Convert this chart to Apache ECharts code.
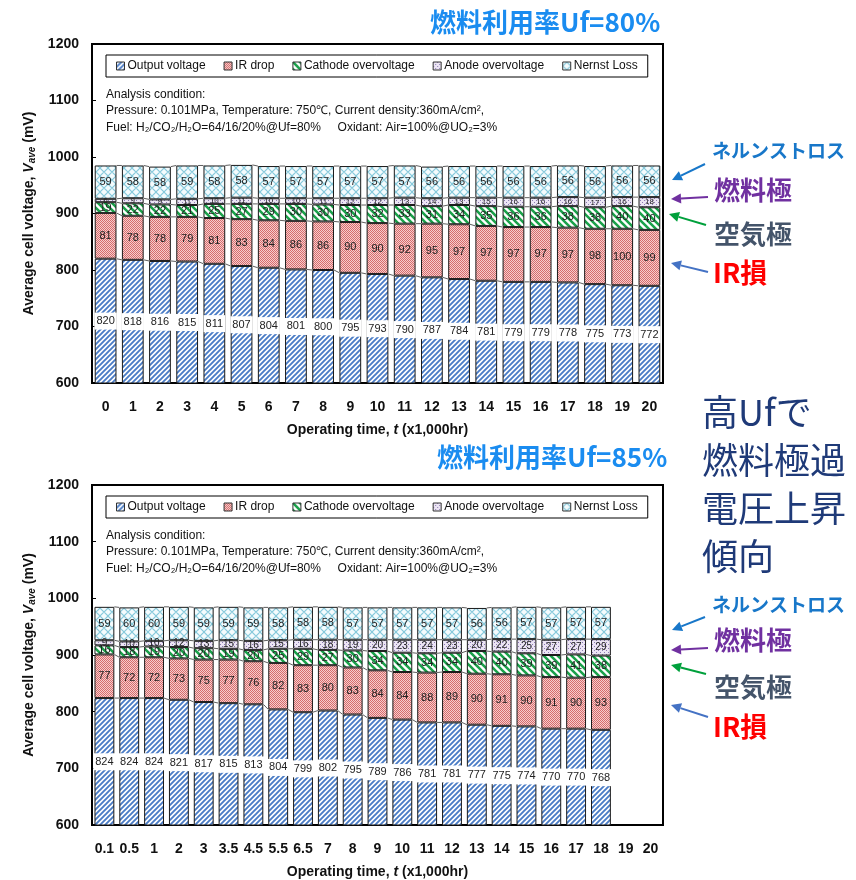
<!DOCTYPE html>
<html><head><meta charset="utf-8">
<script src="https://cdn.jsdelivr.net/npm/echarts/dist/echarts.min.js"></script>
<style>html,body{margin:0;padding:0;background:#fff}#main{width:856px;height:880px}</style>
</head><body><div id="main"></div><script>
// Uf = 80 %
const hoursUf80 = ['0','1','2','3','4','5','6','7','8','9','10','11','12','13','14','15','16','17','18','19','20'];
const outputUf80 = [820,818,816,815,811,807,804,801,800,795,793,790,787,784,781,779,779,778,775,773,772];
const irDropUf80 = [81,78,78,79,81,83,84,86,86,90,90,92,95,97,97,97,97,97,98,100,99];
const cathodeUf80 = [19,22,22,21,25,27,29,30,30,30,32,33,31,34,35,36,36,38,38,40,40];
const anodeUf80 = [6,9,9,11,10,11,10,10,11,12,12,13,14,13,15,16,16,16,17,16,18];
const nernstUf80 = [59,58,58,59,58,58,57,57,57,57,57,57,56,56,56,56,56,56,56,56,56];

// Uf = 85 %
const hoursUf85 = ['0.1','0.5','1','2','3','3.5','4.5','5.5','6.5','7','8','9','10','11','12','13','14','15','16','17','18','19','20'];
const outputUf85 = [824,824,824,821,817,815,813,804,799,802,795,789,786,781,781,777,775,774,770,770,768];
const irDropUf85 = [77,72,72,73,75,77,76,82,83,80,83,84,84,88,89,90,91,90,91,90,93];
const cathodeUf85 = [16,18,19,20,20,19,20,25,29,27,30,34,34,34,34,40,40,39,39,41,38];
const anodeUf85 = [9,10,10,12,13,15,16,15,16,18,19,20,23,24,23,20,22,25,27,27,29];
const nernstUf85 = [59,60,60,59,59,59,59,58,58,58,57,57,57,57,57,56,56,57,57,57,57];

const seriesNames = ['Output voltage','IR drop','Cathode overvoltage','Anode overvoltage','Nernst Loss'];
const yTicks = {min: 600, max: 1200, interval: 100};

// ---- fill patterns ----
function tile(size, draw) {
  const c = document.createElement('canvas');
  c.width = size; c.height = size;
  draw(c.getContext('2d'), size);
  return {image: c, repeat: 'repeat'};
}
function stripes(bg, fg, s, lw, backslash) {
  return tile(s, (g, n) => {
    g.fillStyle = bg; g.fillRect(0, 0, n, n);
    g.strokeStyle = fg; g.lineWidth = lw; g.beginPath();
    if (!backslash) {
      g.moveTo(0, n); g.lineTo(n, 0);
      g.moveTo(-n, n); g.lineTo(n, -n);
      g.moveTo(0, 2 * n); g.lineTo(2 * n, 0);
    } else {
      g.moveTo(0, 0); g.lineTo(n, n);
      g.moveTo(-n, 0); g.lineTo(n, 2 * n);
      g.moveTo(0, -n); g.lineTo(2 * n, n);
    }
    g.stroke();
  });
}
const fillOutput = stripes('#ffffff', '#4a7cc6', 5, 1.9, false);
const fillCathode = stripes('#ffffff', '#1aa14a', 7, 2.6, true);
const fillIR = tile(2, g => {
  g.fillStyle = '#f6cdcd'; g.fillRect(0, 0, 2, 2);
  g.fillStyle = '#d66c6c'; g.fillRect(0, 0, 1, 1); g.fillRect(1, 1, 1, 1);
});
const fillAnode = tile(4, g => {
  g.fillStyle = '#ece5f4'; g.fillRect(0, 0, 4, 4);
  g.fillStyle = '#8c7bb4'; g.fillRect(0, 0, 1, 1); g.fillRect(2, 2, 1, 1);
});
const fillNernst = tile(8, (g, n) => {
  g.fillStyle = '#f4fbfd'; g.fillRect(0, 0, n, n);
  g.strokeStyle = '#86c9db'; g.lineWidth = 1.1; g.beginPath();
  g.moveTo(0, n / 2); g.lineTo(n / 2, 0); g.lineTo(n, n / 2); g.lineTo(n / 2, n); g.closePath();
  g.stroke();
});
const fills = [fillOutput, fillIR, fillCathode, fillAnode, fillNernst];

function buildSeries(idx, values, anodeFont) {
  return values.map((vals, k) => ({
    name: seriesNames[k],
    type: 'bar',
    stack: 'cell' + idx,
    xAxisIndex: idx, yAxisIndex: idx,
    barWidth: '80%',
    data: vals,
    itemStyle: {color: fills[k], borderColor: '#1a1a1a', borderWidth: 1},
    label: {
      show: true, position: 'inside', color: '#222',
      fontFamily: 'Liberation Sans', fontSize: k === 3 ? anodeFont : 11,
      backgroundColor: k === 0 ? '#ffffff' : 'transparent',
      padding: k === 0 ? [3, 2] : 0
    },
    emphasis: {disabled: true}
  }));
}

// thin connector lines between neighbouring stacks
function connectorSeries(idx, values) {
  const n = values[0].length;
  const cum = [];
  for (let i = 0; i < n; i++) {
    let s = 0; const row = [];
    values.forEach(v => { s += v[i]; row.push(s); });
    cum.push(row);
  }
  const data = [];
  for (let i = 0; i < n - 1; i++) data.push([i].concat(cum[i], cum[i + 1]));
  return {
    type: 'custom', xAxisIndex: idx, yAxisIndex: idx, silent: true, z: 3,
    data: data,
    renderItem: (params, api) => {
      const i = api.value(0);
      const step = api.size([1, 0])[0];
      const hw = step * 0.4;
      const children = [];
      for (let k = 0; k < 5; k++) {
        const a = api.coord([i, api.value(1 + k)]);
        const b = api.coord([i + 1, api.value(6 + k)]);
        children.push({type: 'line', shape: {x1: a[0] + hw, y1: a[1], x2: b[0] - hw, y2: b[1]},
          style: {stroke: '#333', lineWidth: 0.8}});
      }
      return {type: 'group', children: children};
    }
  };
}

const axisFont = {fontFamily: 'Liberation Sans', fontWeight: 'bold', fontSize: 14, color: '#111'};
function xAxis(idx, cats) {
  return {
    type: 'category', gridIndex: idx, data: cats,
    axisLine: {lineStyle: {color: '#000', width: 2}},
    axisTick: {show: false},
    axisLabel: Object.assign({margin: 17, interval: 0}, axisFont),
    name: '{b|Operating time, }{i|t}{b| (x1,000hr)}',
    nameLocation: 'middle', nameGap: 40,
    nameTextStyle: {rich: {
      b: {fontFamily: 'Liberation Sans', fontWeight: 'bold', fontSize: 14, color: '#111'},
      i: {fontFamily: 'Liberation Sans', fontWeight: 'bold', fontStyle: 'italic', fontSize: 14, color: '#111'}
    }}
  };
}
function yAxis(idx) {
  return {
    type: 'value', gridIndex: idx, min: yTicks.min, max: yTicks.max, interval: yTicks.interval,
    axisLine: {show: true, lineStyle: {color: '#000', width: 2}},
    axisTick: {show: true, inside: true, length: 4, lineStyle: {color: '#000'}},
    splitLine: {show: false},
    axisLabel: Object.assign({margin: 13, formatter: v => String(v)}, axisFont),
    name: '{b|Average cell voltage, }{v|V}{s|ave}{b| (mV)}',
    nameLocation: 'middle', nameGap: 54, nameRotate: 90,
    nameTextStyle: {rich: {
      b: {fontFamily: 'Liberation Sans', fontWeight: 'bold', fontSize: 14, color: '#111'},
      v: {fontFamily: 'Liberation Sans', fontWeight: 'bold', fontStyle: 'italic', fontSize: 14, color: '#111'},
      s: {fontFamily: 'Liberation Sans', fontWeight: 'bold', fontStyle: 'italic', fontSize: 10, color: '#111', padding: [6, 0, 0, 0]}
    }}
  };
}
function legend(top) {
  return {
    data: seriesNames, left: 106, top: top, orient: 'horizontal',
    borderColor: '#000', borderWidth: 1, padding: [5, 10, 5, 10],
    itemGap: 18, itemWidth: 8, itemHeight: 8, icon: 'rect',
    itemStyle: {borderColor: '#333', borderWidth: 1},
    textStyle: {fontFamily: 'Liberation Sans', fontSize: 12, color: '#111', padding: [0, 0, 0, -2]},
    selectedMode: false
  };
}

const jp = '"Noto Sans CJK JP"';
const condFont = '12px "Liberation Sans"';
function conditionText(top) {
  return [
    {type: 'text', x: 106, y: top, style: {text: 'Analysis condition:', font: condFont, fill: '#111', textVerticalAlign: 'middle'}},
    {type: 'text', x: 106, y: top + 16, style: {text: 'Pressure: 0.101MPa, Temperature: 750\u2103, Current density:360mA/cm\u00b2,', font: condFont, fill: '#111', textVerticalAlign: 'middle'}},
    {type: 'text', x: 106, y: top + 33, style: {text: 'Fuel: H\u2082/CO\u2082/H\u2082O=64/16/20%@Uf=80%     Oxidant: Air=100%@UO\u2082=3%', font: condFont, fill: '#111', textVerticalAlign: 'middle'}}
  ];
}
function label(x, y, text, size, color) {
  return {type: 'text', x: x, y: y, style: {text: text, font: 'bold ' + size + 'px ' + jp, fill: color, textVerticalAlign: 'middle'}};
}
function arrow(x1, y1, x2, y2, color) {
  const ang = Math.atan2(y2 - y1, x2 - x1);
  const L = 10, W = 5;
  const bx = x2 - L * Math.cos(ang), by = y2 - L * Math.sin(ang);
  const px = -Math.sin(ang) * W, py = Math.cos(ang) * W;
  return [
    {type: 'line', shape: {x1: x1, y1: y1, x2: bx, y2: by}, style: {stroke: color, lineWidth: 2}},
    {type: 'polygon', shape: {points: [[x2, y2], [bx + px, by + py], [bx - px, by - py]]}, style: {fill: color}}
  ];
}
const cNernst = '#1877c9', cAnode = '#7030a0', cCathode = '#44546a', cIR = '#ff0000';
const graphics = [].concat(
  [label(430, 22, '燃料利用率Uf=80%', 26, '#1a8cf0'), label(437, 457, '燃料利用率Uf=85%', 26, '#1a8cf0')],
  conditionText(95), conditionText(536),
  [label(712, 151, 'ネルンストロス', 19, cNernst), label(714, 190, '燃料極', 26, cAnode),
   label(714, 234, '空気極', 26, cCathode), label(713, 273, 'IR損', 27, cIR)],
  arrow(705, 164, 672, 180, '#1877c9'), arrow(708, 197, 671, 199, '#7030a0'),
  arrow(706, 225, 669, 214, '#00a03c'), arrow(708, 272, 671, 263, '#4472c4'),
  [label(712, 605, 'ネルンストロス', 19, cNernst), label(714, 640, '燃料極', 26, cAnode),
   label(714, 687, '空気極', 26, cCathode), label(713, 727, 'IR損', 27, cIR)],
  arrow(705, 617, 672, 630, '#1877c9'), arrow(708, 648, 671, 650, '#7030a0'),
  arrow(706, 674, 671, 665, '#00a03c'), arrow(708, 717, 671, 705, '#4472c4'),
  ['高Ufで', '燃料極過', '電圧上昇', '傾向'].map((t, i) => ({
    type: 'text', x: 702, y: 412 + i * 48,
    style: {text: t, font: '36px ' + jp, fill: '#1f3a78', textVerticalAlign: 'middle'}
  }))
);

const valsUf80 = [outputUf80, irDropUf80, cathodeUf80, anodeUf80, nernstUf80];
const valsUf85 = [outputUf85, irDropUf85, cathodeUf85, anodeUf85, nernstUf85];

const chart = echarts.init(document.getElementById('main'), null, {renderer: 'canvas'});
chart.setOption({
  animation: false,
  backgroundColor: '#fff',
  grid: [
    {left: 92, width: 571, top: 44, height: 339, show: true, borderColor: '#000', borderWidth: 2},
    {left: 92, width: 571, top: 485, height: 340, show: true, borderColor: '#000', borderWidth: 2}
  ],
  xAxis: [xAxis(0, hoursUf80), xAxis(1, hoursUf85)],
  yAxis: [yAxis(0), yAxis(1)],
  legend: [legend(55), legend(496)],
  series: [].concat(
    buildSeries(0, valsUf80, 8), connectorSeries(0, valsUf80),
    buildSeries(1, valsUf85, 10), connectorSeries(1, valsUf85)
  ),
  graphic: {elements: graphics}
});
</script></body></html>
